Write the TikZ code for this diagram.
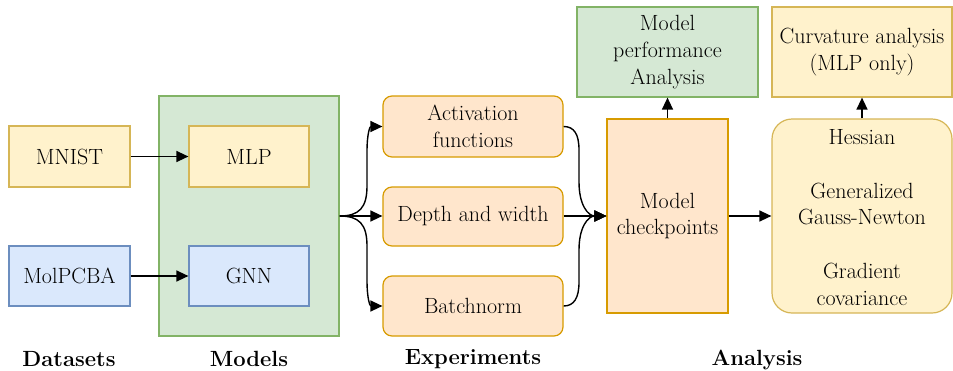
\documentclass[tikz,border=0pt]{standalone}
\usetikzlibrary{arrows.meta}
\definecolor{yfill}{HTML}{FFF2CC}\definecolor{ydraw}{HTML}{D6B656}
\definecolor{bfill}{HTML}{DAE8FC}\definecolor{bdraw}{HTML}{6C8EBF}
\definecolor{gfill}{HTML}{D5E8D4}\definecolor{gdraw}{HTML}{82B366}
\definecolor{ofill}{HTML}{FFE6CC}\definecolor{odraw}{HTML}{D79B00}
\begin{document}
\begin{tikzpicture}[x=1pt,y=-1pt,
  font=\fontsize{22}{26.8}\selectfont,
  box/.style={draw, line width=1.2pt, inner sep=0pt, align=center},
  ybox/.style={box, fill=yfill, draw=ydraw},
  bbox/.style={box, fill=bfill, draw=bdraw},
  gbox/.style={box, fill=gfill, draw=gdraw},
  obox/.style={box, fill=ofill, draw=odraw},
  conn/.style={line width=1.4pt, -{Triangle[length=12pt,width=11pt]}},
  lbl/.style={font=\fontsize{22}{26}\selectfont\bfseries}]
\useasboundingbox (0,0) rectangle (953,370);
% Models group
\node[gbox, minimum width=180pt, minimum height=240pt] (models) at (249,216) {};
\node[ybox, minimum width=121pt, minimum height=61pt] (mnist) at (69.5,156.5) {MNIST};
\node[bbox, minimum width=121pt, minimum height=60pt] (molpcba) at (69.5,276) {MolPCBA};
\node[ybox, minimum width=120pt, minimum height=61pt] (mlp) at (249,156.5) {MLP};
\node[bbox, minimum width=120pt, minimum height=60pt] (gnn) at (249,276) {GNN};
% Experiments
\node[obox, rounded corners=9pt, minimum width=180pt, minimum height=61pt] (act) at (473,126.5) {Activation\\functions};
\node[obox, rounded corners=9pt, minimum width=180pt, minimum height=59pt] (depth) at (473,216.5) {Depth and width};
\node[obox, rounded corners=9pt, minimum width=180pt, minimum height=60pt] (batch) at (473,306) {Batchnorm};
% Analysis
\node[obox, minimum width=121pt, minimum height=194pt] (ckpt) at (667.5,216) {Model\\checkpoints};
\node[gbox, minimum width=181pt, minimum height=90pt] (perf) at (667.5,52) {Model\\performance\\Analysis};
\node[ybox, minimum width=180pt, minimum height=90pt] (curv) at (862,52) {Curvature analysis\\(MLP only)};
\node[ybox, rounded corners=20pt, minimum width=180pt, minimum height=194pt] (hess) at (862,216) {};
\node[align=center, inner sep=0pt] (hesstext) at (862,217.5) {Hessian\\[26.8pt]Generalized\\Gauss-Newton\\[26.8pt]Gradient\\covariance};
% labels
\node[lbl] (l1) at (69,359) {Datasets};
\node[lbl] (l2) at (249,359) {Models};
\node[lbl] (l3) at (473,359) {Experiments};
\node[lbl] (l4) at (757,360) {Analysis};
% connectors
\draw[conn] (mnist.east) -- (mlp.west);
\draw[conn] (molpcba.east) -- (gnn.west);
\draw[conn] (models.east) .. controls (359,216) and (367,208) .. (367,186) -- (367,152) .. controls (367,133) and (370,126.5) .. (act.west);
\draw[conn] (models.east) -- (depth.west |- models.east);
\draw[conn] (models.east) .. controls (359,216) and (367,224) .. (367,246) -- (367,280) .. controls (367,299) and (370,306) .. (batch.west);
\draw[conn] (act.east) .. controls (574,126.5) and (579,134) .. (579,150) -- (579,182) .. controls (579,205) and (588,216) .. (ckpt.west);
\draw[conn] (depth.east |- ckpt.west) -- (ckpt.west);
\draw[conn] (batch.east) .. controls (574,306) and (579,298) .. (579,282) -- (579,250) .. controls (579,227) and (588,216) .. (ckpt.west);
\draw[conn] (ckpt.east) -- (hess.west);
\draw[conn] (ckpt.north) -- (perf.south);
\draw[conn] (hess.north) -- (curv.south);
\end{tikzpicture}
\end{document}
